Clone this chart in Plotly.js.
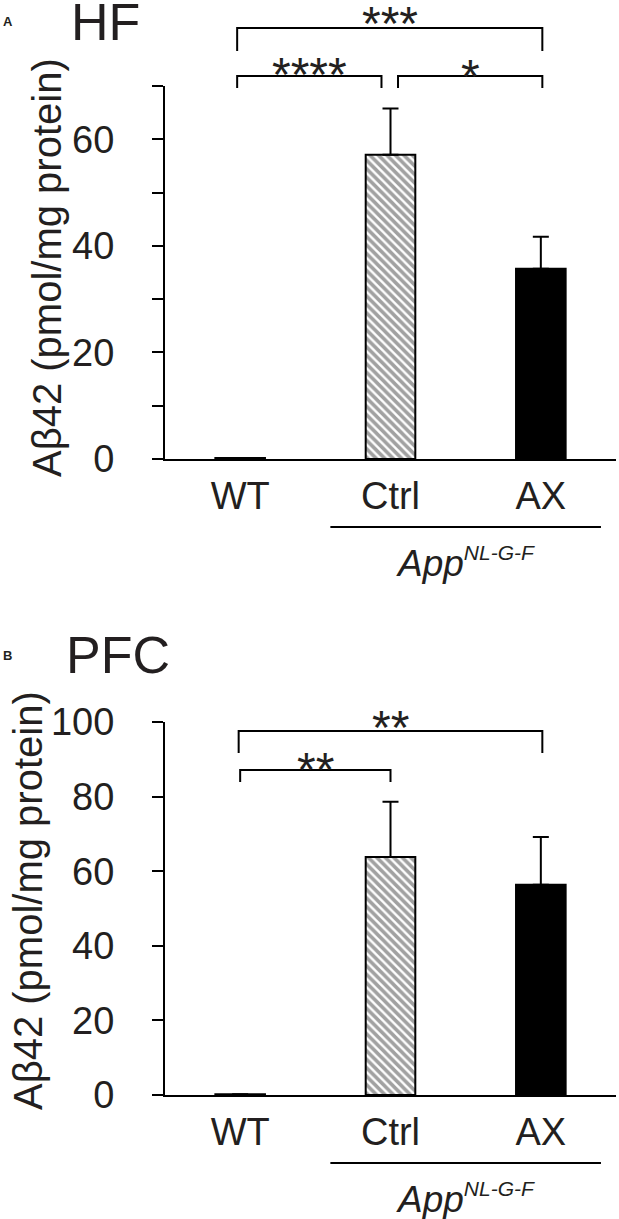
<!DOCTYPE html>
<html>
<head>
<meta charset="utf-8">
<script src="https://cdn.plot.ly/plotly-3.0.1.min.js"></script>
<style>html,body{margin:0;padding:0;background:#fff;}#chart{width:619px;height:1219px;}</style>
</head>
<body>
<div id="chart"></div>
<script>
// ---------- data ----------
const categories = ['WT', 'Ctrl', 'AX'];
const hfMean = [0.2, 57.1, 35.7];
const hfErr = [0, 8.7, 6.0];
const pfcMean = [0.2, 63.8, 56.4];
const pfcErr = [0, 14.8, 12.8];
const hfTickVals = [0, 10, 20, 30, 40, 50, 60, 70];
const hfTickText = ['0', '', '20', '', '40', '', '60', ''];
const pfcTickVals = [0, 20, 40, 60, 80, 100];
const pfcTickText = ['0', '20', '40', '60', '80', '100'];
const hfCompFrom = [0, 0, 1];
const hfCompTo = [2, 1, 2];
const hfCompLabel = ['***', '****', '*'];
const pfcCompFrom = [0, 0];
const pfcCompTo = [2, 1];
const pfcCompLabel = ['**', '**'];
const panelTitles = ['HF', 'PFC'];
const panelLetters = ['A', 'B'];
const yTitle = 'A\u03b242 (pmol/mg protein)';
const groupLabel = '<i>App<sup><span style="font-size:21px">NL-G-F</span></sup></i>';

// ---------- geometry ----------
const W = 619, H = 1219;
const FONT = 'Liberation Sans, Arial, Helvetica, sans-serif';
const INK = '#231f20';
const xDom = [165 / W, 616 / W];
const xRange = [-0.5, 2.5];
const yDomA = [1 - 459 / H, 1 - 86 / H], yRangeA = [0, 70];
const yDomB = [1 - 1095 / H, 1 - 722 / H], yRangeB = [0, 100];

function xP(i) { return xDom[0] + (i - xRange[0]) / (xRange[1] - xRange[0]) * (xDom[1] - xDom[0]); }
function yP(v, dom, rng) { return dom[0] + (v - rng[0]) / (rng[1] - rng[0]) * (dom[1] - dom[0]); }
function dy(px) { return px / H; }

function barTrace(mean, err, xa, ya) {
  return {
    type: 'bar', x: categories, y: mean, xaxis: xa, yaxis: ya,
    width: 0.33,
    marker: {
      color: ['white', 'white', 'black'],
      line: { color: 'black', width: 2 },
      pattern: { shape: ['', '\\', ''], fgcolor: 'black', bgcolor: 'white', size: 6, solidity: 0.6, fillmode: 'overlay' }
    },
    error_y: { type: 'data', symmetric: false, array: err, arrayminus: err.map(() => 0), color: 'black', thickness: 2, width: 8 },
    showlegend: false, hoverinfo: 'skip'
  };
}

const shapes = [];
const annotations = [];

function addBrackets(from, to, labels, dom, rng, levels, legPx, insFrom, insTo, labelPx, fsize) {
  for (let k = 0; k < from.length; k++) {
    const x0 = xP(from[k] + insFrom[k]), x1 = xP(to[k] + insTo[k]);
    const yl = yP(levels[k], dom, rng);
    const yb = yl - dy(legPx[k]);
    shapes.push({ type: 'path', xref: 'paper', yref: 'paper',
      path: `M ${x0} ${yb} L ${x0} ${yl} L ${x1} ${yl} L ${x1} ${yb}`,
      line: { color: 'black', width: 2 } });
    annotations.push({ xref: 'paper', yref: 'paper', x: (x0 + x1) / 2, y: yl + dy(labelPx[k]) - dy(0.25 * fsize),
      text: labels[k], showarrow: false, xanchor: 'center', yanchor: 'middle',
      font: { family: FONT, size: fsize, color: INK } });
  }
}

const STAR = 48;
addBrackets(hfCompFrom, hfCompTo, hfCompLabel, yDomA, yRangeA,
  [80.9, 71.9, 71.9], [23, 12, 12], [-0.02, -0.02, 0.05], [0.01, -0.06, 0.01], [16.5, 13.5, 11], STAR);
addBrackets(pfcCompFrom, pfcCompTo, pfcCompLabel, yDomB, yRangeB,
  [97.6, 87.1], [22, 12], [-0.01, 0.0], [0.01, 0.0], [15.7, 12.5], STAR);

// group underline and genotype label
[yDomA, yDomB].forEach(dom => {
  const yl = dom[0] - dy(68);
  shapes.push({ type: 'line', xref: 'paper', yref: 'paper', x0: xP(1 - 0.4), x1: xP(2 + 0.4), y0: yl, y1: yl,
    line: { color: 'black', width: 2 } });
  annotations.push({ xref: 'paper', yref: 'paper', x: xP(1.5), y: dom[0] - dy(103), text: groupLabel,
    showarrow: false, xanchor: 'center', yanchor: 'middle', font: { family: FONT, size: 37, color: INK } });
});

// y-axis titles (rotated)
annotations.push({ xref: 'paper', yref: 'paper', x: 47 / W, y: 1 - 268 / H, text: yTitle, textangle: -90,
  showarrow: false, xanchor: 'center', yanchor: 'middle', font: { family: FONT, size: 40, color: INK } });
annotations.push({ xref: 'paper', yref: 'paper', x: 28 / W, y: 1 - 901 / H, text: yTitle, textangle: -90,
  showarrow: false, xanchor: 'center', yanchor: 'middle', font: { family: FONT, size: 40, color: INK } });

// panel titles and letters
annotations.push({ xref: 'paper', yref: 'paper', x: 69 / W, y: 1 - 22 / H, text: panelTitles[0], showarrow: false,
  xanchor: 'left', yanchor: 'middle', font: { family: FONT, size: 52, color: INK } });
annotations.push({ xref: 'paper', yref: 'paper', x: 64 / W, y: 1 - 655 / H, text: panelTitles[1], showarrow: false,
  xanchor: 'left', yanchor: 'middle', font: { family: FONT, size: 52, color: INK } });
annotations.push({ xref: 'paper', yref: 'paper', x: 7.5 / W, y: 1 - 22 / H, text: '<b>' + panelLetters[0] + '</b>', showarrow: false,
  xanchor: 'center', yanchor: 'middle', font: { family: FONT, size: 13, color: INK } });
annotations.push({ xref: 'paper', yref: 'paper', x: 7.5 / W, y: 1 - 655 / H, text: '<b>' + panelLetters[1] + '</b>', showarrow: false,
  xanchor: 'center', yanchor: 'middle', font: { family: FONT, size: 13, color: INK } });

function xAxis(anchor) {
  return { domain: xDom, range: xRange, anchor: anchor, type: 'category',
    showline: true, linecolor: 'black', linewidth: 2, ticks: '', showgrid: false, zeroline: false,
    tickfont: { family: FONT, size: 38, color: INK }, ticklabelstandoff: 2, fixedrange: true };
}
function yAxis(anchor, dom, rng, tv, tt) {
  return { domain: dom, range: rng, anchor: anchor, showline: true, linecolor: 'black', linewidth: 2,
    ticks: 'outside', ticklen: 11, tickwidth: 2, tickcolor: 'black', showgrid: false, zeroline: false,
    tickmode: 'array', tickvals: tv, ticktext: tt, ticklabelstandoff: 30,
    tickfont: { family: FONT, size: 38, color: INK }, fixedrange: true };
}

const layout = {
  width: W, height: H, margin: { l: 0, r: 0, t: 0, b: 0, pad: 0 },
  paper_bgcolor: 'white', plot_bgcolor: 'white',
  xaxis: xAxis('y'), yaxis: yAxis('x', yDomA, yRangeA, hfTickVals, hfTickText),
  xaxis2: xAxis('y2'), yaxis2: yAxis('x2', yDomB, yRangeB, pfcTickVals, pfcTickText),
  shapes: shapes, annotations: annotations, bargap: 0
};

Plotly.newPlot('chart', [barTrace(hfMean, hfErr, 'x', 'y'), barTrace(pfcMean, pfcErr, 'x2', 'y2')], layout,
  { staticPlot: true, displayModeBar: false });
</script>
</body>
</html>
